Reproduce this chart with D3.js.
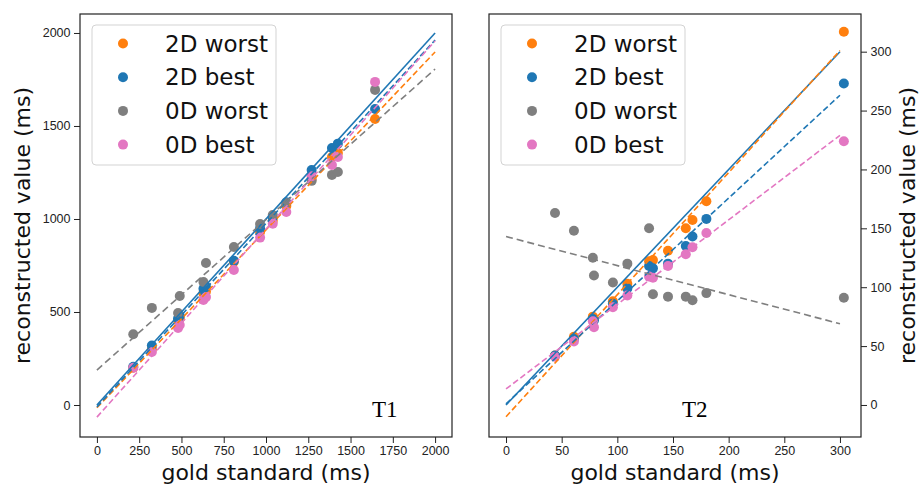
<!DOCTYPE html>
<html>
<head>
<meta charset="utf-8">
<script src="https://cdn.jsdelivr.net/npm/d3@7"></script>
<style>
  body { margin: 0; background: #fff; }
  svg { display: block; font-family: "DejaVu Sans", sans-serif; }
  .axis text { font-size: 12.5px; fill: #222; }
  .axis path, .axis line { stroke: #222; }
</style>
</head>
<body>
<script>
// series order: 2D worst, 2D best, 0D worst, 0D best
var seriesNames = ["2D worst", "2D best", "0D worst", "0D best"];

// T1 panel
var gold1    = [215, 325, 480, 490, 630, 645, 810, 965, 1040, 1120, 1270, 1390, 1425, 1645];
var worst2D1 = [200, 300, 455, 465, 600, 610, 770, 930, 990, 1070, 1215, 1333, 1355, 1538];
var best2D1  = [205, 320, 465, 480, 625, 635, 775, 950, 1010, 1090, 1263, 1382, 1405, 1591];
var worst0D1 = [380, 522, 495, 586, 661, 763, 849, 973, 1021, 1086, 1205, 1237, 1253, 1694];
var best0D1  = [200, 285, 414, 430, 565, 580, 726, 900, 975, 1038, 1230, 1290, 1333, 1737];
var fitStart1 = [-15, -10, 188, -65];   // fit value at x = 0
var fitEnd1   = [1898, 1962, 1806, 1957]; // fit value at x = 2000
var range1 = [0, 2000];
var xTicks1 = [0, 250, 500, 750, 1000, 1250, 1500, 1750, 2000];
var yTicks1 = [0, 500, 1000, 1500, 2000];

// T2 panel
var gold2    = [44, 61, 78, 79, 96, 109, 128.5, 132, 145.5, 161.5, 167.5, 180, 303.5];
var worst2D2 = [42, 58, 75, 73, 88, 103, 122, 123, 131, 150, 157, 173, 317];
var best2D2  = [42, 56, 73, 72, 86, 99, 118, 116, 120, 135, 143, 158, 273];
var worst0D2 = [163, 148, 125, 110, 104, 120, 150, 94, 92, 92, 89, 95, 91];
var best0D2  = [41, 54, 71, 66, 83, 93, 109, 108, 118, 128, 134, 146, 224];
var fitStart2 = [-10, 1, 143, 13.6];
var fitEnd2   = [301, 263, 69, 229];
var range2 = [0, 300];
var xTicks2 = [0, 50, 100, 150, 200, 250, 300];
var yTicks2 = [0, 50, 100, 150, 200, 250, 300];

var colors = ["#ff7f0e", "#1f77b4", "#7f7f7f", "#e377c2"];
var dashes = ["6,3", "6,3", "7,4", "6,3"];

var W = 921, H = 485;
var svg = d3.select("body").append("svg")
    .attr("width", W)
    .attr("height", H);

function panel(opt) {
  var x = d3.scaleLinear().domain(opt.xDomain).range([opt.left, opt.right]);
  var y = d3.scaleLinear().domain(opt.yDomain).range([opt.bottom, opt.top]);
  var g = svg.append("g");

  // points
  opt.series.forEach(function(vals, s) {
    g.append("g").selectAll("circle")
        .data(vals)
      .enter().append("circle")
        .attr("cx", function(d, i) { return x(opt.gold[i]); })
        .attr("cy", function(d) { return y(d); })
        .attr("r", 5)
        .attr("fill", colors[s]);
  });

  // identity line
  g.append("line")
      .attr("x1", x(opt.range[0])).attr("y1", y(opt.range[0]))
      .attr("x2", x(opt.range[1])).attr("y2", y(opt.range[1]))
      .attr("stroke", colors[1])
      .attr("stroke-width", 1.6);

  // fitted lines
  opt.fitStart.forEach(function(v, s) {
    g.append("line")
        .attr("x1", x(opt.range[0])).attr("y1", y(v))
        .attr("x2", x(opt.range[1])).attr("y2", y(opt.fitEnd[s]))
        .attr("stroke", colors[s])
        .attr("stroke-width", 1.6)
        .attr("stroke-dasharray", dashes[s]);
  });

  // frame
  g.append("rect")
      .attr("x", opt.left).attr("y", opt.top)
      .attr("width", opt.right - opt.left)
      .attr("height", opt.bottom - opt.top)
      .attr("fill", "none")
      .attr("stroke", "#222")
      .attr("stroke-width", 1.2);

  // axes
  g.append("g")
      .attr("class", "axis")
      .attr("transform", "translate(0," + opt.bottom + ")")
      .call(d3.axisBottom(x).tickValues(opt.xTicks).tickSize(6).tickPadding(3.5).tickFormat(d3.format("d")))
      .call(function(a) { a.select(".domain").remove(); });

  var yAxis = opt.yRight ? d3.axisRight(y) : d3.axisLeft(y);
  g.append("g")
      .attr("class", "axis")
      .attr("transform", "translate(" + (opt.yRight ? opt.right : opt.left) + ",0)")
      .call(yAxis.tickValues(opt.yTicks).tickSize(6).tickPadding(3.5).tickFormat(d3.format("d")))
      .call(function(a) { a.select(".domain").remove(); });

  // axis labels
  g.append("text")
      .attr("x", (opt.left + opt.right) / 2)
      .attr("y", 480)
      .attr("text-anchor", "middle")
      .attr("font-size", "22px")
      .attr("fill", "#111")
      .text("gold standard (ms)");

  g.append("text")
      .attr("transform", "translate(" + opt.yLabelX + "," + ((opt.top + opt.bottom) / 2) + ") rotate(-90)")
      .attr("text-anchor", "middle")
      .attr("font-size", "22px")
      .attr("fill", "#111")
      .text("reconstructed value (ms)");

  // panel tag
  g.append("text")
      .attr("x", opt.tagX)
      .attr("y", 417)
      .attr("font-family", "'Liberation Serif', serif")
      .attr("font-size", "23px")
      .attr("fill", "#000")
      .text(opt.tag);

  // legend
  var lg = g.append("g").attr("transform", "translate(" + (opt.left + 12) + ",25)");
  lg.append("rect")
      .attr("width", 184).attr("height", 140)
      .attr("rx", 4)
      .attr("fill", "#fff")
      .attr("fill-opacity", 0.85)
      .attr("stroke", "#d3d3d3");
  seriesNames.forEach(function(name, s) {
    var cy = 18.5 + s * 33.7;
    lg.append("circle")
        .attr("cx", 31).attr("cy", cy)
        .attr("r", 5)
        .attr("fill", colors[s]);
    lg.append("text")
        .attr("x", 73)
        .attr("y", cy + 8)
        .attr("font-size", "23px")
        .attr("fill", "#111")
        .text(name);
  });
}

panel({
  left: 80, right: 452, top: 14, bottom: 437,
  xDomain: [-100, 2100], yDomain: [-172, 2102],
  gold: gold1, series: [worst2D1, best2D1, worst0D1, best0D1],
  fitStart: fitStart1, fitEnd: fitEnd1, range: range1,
  xTicks: xTicks1, yTicks: yTicks1,
  yRight: false, yLabelX: 30, tag: "T1", tagX: 372
});

panel({
  left: 489, right: 861, top: 14, bottom: 437,
  xDomain: [-15.3, 318.9], yDomain: [-27.2, 332],
  gold: gold2, series: [worst2D2, best2D2, worst0D2, best0D2],
  fitStart: fitStart2, fitEnd: fitEnd2, range: range2,
  xTicks: xTicks2, yTicks: yTicks2,
  yRight: true, yLabelX: 915, tag: "T2", tagX: 682
});
</script>
</body>
</html>
